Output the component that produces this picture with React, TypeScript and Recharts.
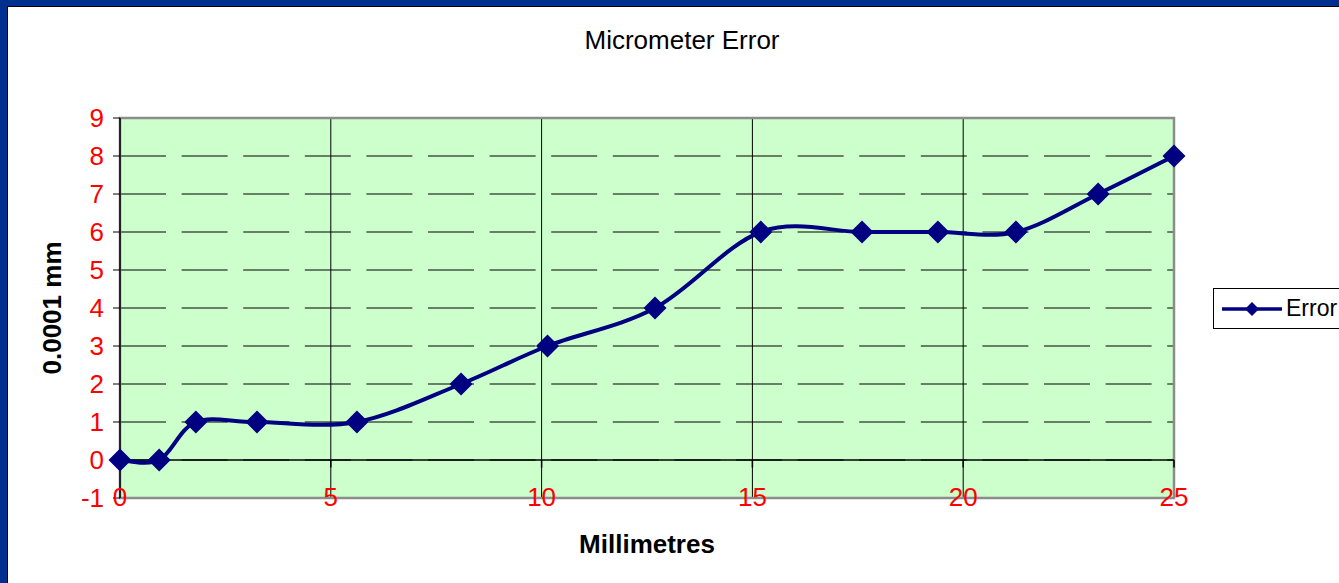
import { LineChart, Line, XAxis, YAxis, CartesianGrid, ReferenceLine, ReferenceArea } from 'recharts'

// Micrometer calibration readings
const positions = [0, 0.93, 1.8, 3.25, 5.62, 8.09, 10.14, 12.69, 15.2, 17.6, 19.4, 21.25, 23.2, 25]
const errors = [0, 0, 1, 1, 1, 2, 3, 4, 6, 6, 6, 6, 7, 8]
const xTicks = [0, 5, 10, 15, 20, 25]
const yTicks = [-1, 0, 1, 2, 3, 4, 5, 6, 7, 8, 9]

const data = positions.map((mm, i) => ({ mm, error: errors[i] }))

const FONT = '"Liberation Sans", Arial, sans-serif'
const NAVY = '#000080'

// Excel-style smoothed line (Catmull-Rom as cubic beziers)
function excelSmooth(context: any) {
  let pts: number[][] = []
  return {
    areaStart() {},
    areaEnd() {},
    lineStart() {
      pts = []
    },
    point(x: number, y: number) {
      pts.push([+x, +y])
    },
    lineEnd() {
      if (!pts.length) return
      context.moveTo(pts[0][0], pts[0][1])
      for (let i = 0; i < pts.length - 1; i++) {
        const p0 = pts[i - 1] ?? pts[i]
        const p1 = pts[i]
        const p2 = pts[i + 1]
        const p3 = pts[i + 2] ?? p2
        context.bezierCurveTo(
          p1[0] + (p2[0] - p0[0]) / 6,
          p1[1] + (p2[1] - p0[1]) / 6,
          p2[0] - (p3[0] - p1[0]) / 6,
          p2[1] - (p3[1] - p1[1]) / 6,
          p2[0],
          p2[1],
        )
      }
    },
  }
}

const Diamond = (props: any) => {
  const { cx, cy, index } = props
  const r = 11.5
  return (
    <path key={index} d={`M${cx},${cy - r}L${cx + r},${cy}L${cx},${cy + r}L${cx - r},${cy}Z`} fill={NAVY} />
  )
}

// legend drawn as plain html, running into the right edge like the original
const LegendBox = () => (
  <div
    style={{
      position: 'absolute',
      left: 1213,
      top: 288,
      border: '1px solid #000',
      background: '#fff',
      height: 41,
      width: 160,
      boxSizing: 'border-box',
      display: 'flex',
      alignItems: 'center',
      fontFamily: FONT,
      fontSize: 23,
      color: '#000',
    }}
  >
    <svg width={66} height={30} style={{ marginLeft: 6, flex: 'none' }}>
      <line x1={2} y1={15} x2={62} y2={15} stroke={NAVY} strokeWidth={3.5} />
      <path d="M32,8L39,15L32,22L25,15Z" fill={NAVY} />
    </svg>
    <span>Error</span>
  </div>
)

export default function App() {
  return (
    <div style={{ position: 'fixed', left: 0, top: 0, width: 1339, height: 583, overflow: 'hidden', background: '#00308F' }}>
      <div
        style={{
          position: 'absolute',
          left: 7,
          top: 6,
          right: -10,
          bottom: -10,
          background: '#fff',
          borderLeft: '1px solid #000',
          borderTop: '1px solid #000',
        }}
      />
      <div style={{ position: 'absolute', left: 0, top: 0 }}>
        <LineChart width={1339} height={583} data={data} margin={{ top: 118, right: 165, left: 0, bottom: 0 }}>
          <CartesianGrid vertical={false} stroke="#000" strokeDasharray="46 15.6" fill="#CCFFCC" fillOpacity={1} />
          <CartesianGrid horizontal={false} stroke="#000" />
          <XAxis
            type="number"
            dataKey="mm"
            domain={[0, 25]}
            ticks={xTicks}
            interval={0}
            axisLine={false}
            tickLine={false}
            tickSize={0}
            tickMargin={-10}
            height={85}
            tick={{ fill: '#FF0000', fontSize: 26, fontFamily: FONT }}
            label={{ value: 'Millimetres', position: 'center', dy: 3, fill: '#000', fontSize: 26, fontWeight: 'bold', fontFamily: FONT }}
          />
          <YAxis
            type="number"
            domain={[-1, 9]}
            ticks={yTicks}
            interval={0}
            width={120}
            axisLine={{ stroke: '#000', strokeWidth: 1.5 }}
            tickLine={{ stroke: '#000' }}
            tickSize={7}
            tickMargin={9}
            tick={{ fill: '#FF0000', fontSize: 26, fontFamily: FONT }}
            label={{ value: '0.0001 mm', angle: -90, position: 'center', dx: -8, fill: '#000', fontSize: 26, fontWeight: 'bold', fontFamily: FONT }}
          />
          <ReferenceArea x1={0} x2={25} y1={-1} y2={9} fill="none" stroke="#8c8c8c" strokeWidth={2.5} />
          <ReferenceLine y={0} stroke="#000" strokeWidth={1.5} />
          {xTicks.map((t) => (
            <ReferenceLine key={t} segment={[{ x: t, y: 0 }, { x: t, y: -0.2 }]} stroke="#000" strokeWidth={1.5} />
          ))}
          <Line
            dataKey="error"
            type={excelSmooth as any}
            stroke={NAVY}
            strokeWidth={4}
            dot={Diamond}
            activeDot={false}
            isAnimationActive={false}
          />
          <text x={682} y={49} textAnchor="middle" fontSize={26} fontFamily={FONT} fill="#000">
            Micrometer Error
          </text>
        </LineChart>
      </div>
      <LegendBox />
    </div>
  )
}
